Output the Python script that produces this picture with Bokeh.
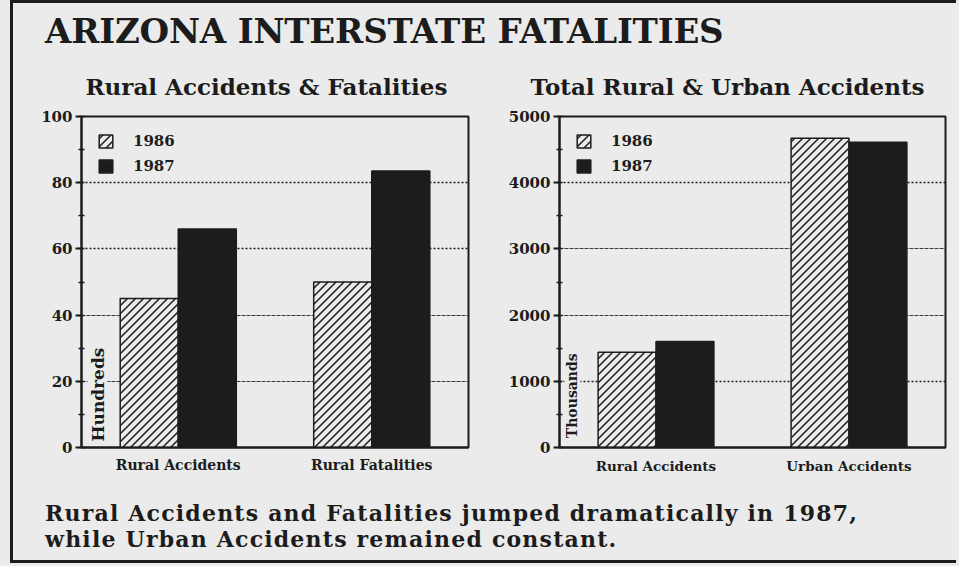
import math
from bokeh.plotting import figure
from bokeh.models import (FactorRange, Range1d, SingleIntervalTicker, FixedTicker, Grid,
                          Legend, LegendItem, Label, Div, ColumnDataSource, CanvasTexture)
from bokeh.layouts import column, row
from bokeh.transform import dodge
from bokeh.core.properties import value
from bokeh.embed import file_html
from bokeh.resources import INLINE

# ---------------- data ----------------
title_text = "ARIZONA INTERSTATE FATALITIES"
caption_lines = ["Rural Accidents and Fatalities jumped dramatically in 1987,",
                 "while Urban Accidents remained constant."]
years = ["1986", "1987"]

left_title = "Rural Accidents & Fatalities"
left_categories = ["Rural Accidents", "Rural Fatalities"]
left_1986 = [45, 50]
left_1987 = [66, 83.5]
left_ymax = 100
left_tick_step = 20
left_dotted_grid = [60, 80]
left_thin_grid = [20, 40]
left_unit = "Hundreds"

right_title = "Total Rural & Urban Accidents"
right_categories = ["Rural Accidents", "Urban Accidents"]
right_1986 = [1440, 4670]
right_1987 = [1600, 4610]
right_ymax = 5000
right_tick_step = 1000
right_dotted_grid = [1000, 4000]
right_thin_grid = [2000, 3000]
right_unit = "Thousands"

BG = "#ebebeb"
INK = "#1c1c1c"
SERIF = "DejaVu Serif"

FIG_H = 445
MB_TOP = 63
FRAME_H = 331

# 45-degree "/" hatch tile (8 px)
diag_texture = CanvasTexture(code="""
const c = ctx.canvas;
c.width = 8; c.height = 8;
ctx.strokeStyle = "#1c1c1c";
ctx.lineWidth = 1.5;
ctx.beginPath();
ctx.moveTo(0, 8); ctx.lineTo(8, 0);
ctx.moveTo(-4, 4); ctx.lineTo(4, -4);
ctx.moveTo(4, 12); ctx.lineTo(12, 4);
ctx.stroke();
""")


def make_panel(cats, v86, v87, ymax, step, dotted, thin, ttl, unit, width,
               mb_left, mb_right, title_offset,
               xlabel_size, xlabel_standoff, unit_x, unit_y, unit_size):
    src = ColumnDataSource(dict(cat=cats, y86=v86, y87=v87))
    p = figure(x_range=FactorRange(factors=cats), y_range=Range1d(0, ymax),
               width=width, height=FIG_H, output_backend="svg", toolbar_location=None,
               min_border_left=mb_left, min_border_right=mb_right,
               min_border_top=MB_TOP, min_border_bottom=FIG_H - MB_TOP - FRAME_H,
               background_fill_color=BG, border_fill_color=BG,
               outline_line_color=INK, outline_line_width=2)
    p.title.text = ttl
    p.title.text_font = SERIF
    p.title.text_font_style = "bold"
    p.title.text_font_size = "23px"
    p.title.text_color = INK
    p.title.align = "left"
    p.title.offset = title_offset
    p.title.standoff = 33

    r86 = p.vbar(x=dodge("cat", -0.15, range=p.x_range), top="y86", width=0.3, source=src,
                 fill_color=BG, hatch_pattern=value("diag"),
                 hatch_extra={"diag": diag_texture}, hatch_color=INK, hatch_scale=8,
                 hatch_weight=1.5, line_color=INK, line_width=1.5)
    r87 = p.vbar(x=dodge("cat", 0.15, range=p.x_range), top="y87", width=0.3, source=src,
                 fill_color=INK, line_color=INK, line_width=1.5)

    p.xgrid.visible = False
    p.ygrid.ticker = FixedTicker(ticks=dotted)
    p.ygrid.grid_line_color = INK
    p.ygrid.grid_line_dash = "2 2"
    p.ygrid.grid_line_width = 1.5
    p.add_layout(Grid(dimension=1, ticker=FixedTicker(ticks=thin),
                      grid_line_color="#3a3a3a", grid_line_dash="4 1",
                      grid_line_width=1))

    p.yaxis.ticker = SingleIntervalTicker(interval=step, num_minor_ticks=2)
    p.yaxis.axis_line_color = INK
    p.yaxis.axis_line_width = 2
    p.yaxis.major_tick_line_color = INK
    p.yaxis.major_tick_line_width = 2
    p.yaxis.major_tick_out = 6
    p.yaxis.major_tick_in = 0
    p.yaxis.minor_tick_line_color = INK
    p.yaxis.minor_tick_line_width = 1.5
    p.yaxis.minor_tick_in = 3
    p.yaxis.minor_tick_out = 3
    p.yaxis.major_label_text_font = SERIF
    p.yaxis.major_label_text_font_style = "bold"
    p.yaxis.major_label_text_font_size = "15px"
    p.yaxis.major_label_text_color = INK
    p.yaxis.major_label_standoff = 3

    p.xaxis.axis_line_color = INK
    p.xaxis.axis_line_width = 2
    p.xaxis.major_tick_line_color = None
    p.xaxis.major_tick_out = 0
    p.xaxis.major_tick_in = 0
    p.xaxis.minor_tick_line_color = None
    p.xaxis.minor_tick_out = 0
    p.xaxis.minor_tick_in = 0
    p.xaxis.major_label_text_font = SERIF
    p.xaxis.major_label_text_font_style = "bold"
    p.xaxis.major_label_text_font_size = xlabel_size
    p.xaxis.major_label_text_color = INK
    p.xaxis.major_label_standoff = xlabel_standoff

    legend = Legend(items=[LegendItem(label=years[0], renderers=[r86]),
                           LegendItem(label=years[1], renderers=[r87])],
                    location="top_left", glyph_width=17, glyph_height=16,
                    label_height=16, spacing=7, label_standoff=19, padding=0,
                    margin=16, background_fill_alpha=0, border_line_color=None,
                    label_text_font=SERIF, label_text_font_style="bold",
                    label_text_font_size="15px", label_text_color=INK)
    p.add_layout(legend)

    p.add_layout(Label(x=unit_x, y=unit_y, text=unit, angle=math.pi / 2,
                       text_align="left", text_baseline="middle",
                       text_font=SERIF, text_font_style="bold",
                       text_font_size=unit_size, text_color=INK,
                       background_fill_color=BG))
    return p


p1 = make_panel(left_categories, left_1986, left_1987, left_ymax, left_tick_step,
                left_dotted_grid, left_thin_grid,
                left_title, left_unit, 475, 68, 20, 4,
                "14px", 9, 0.083, 1.8, "17px")
p2 = make_panel(right_categories, right_1986, right_1987, right_ymax, right_tick_step,
                right_dotted_grid, right_thin_grid,
                right_title, right_unit, 468, 71, 11, -29,
                "13.5px", 10, 0.067, 140, "14px")

title_div = Div(
    text=('<div style="margin:0;padding:8px 0 0 32px;font-family:\'DejaVu Serif\';'
          'font-weight:bold;font-size:34px;line-height:40px;letter-spacing:-0.2px;'
          'color:%s;white-space:nowrap;">%s</div>' % (INK, title_text)),
    width=943, height=50, margin=0)
caption_div = Div(
    text=('<div style="margin:0;padding:3px 0 0 32px;font-family:\'DejaVu Serif\';'
          'font-weight:bold;font-size:22px;line-height:25.6px;letter-spacing:1.2px;'
          'color:%s;white-space:nowrap;">%s</div>' % (INK, "<br>".join(caption_lines))),
    width=943, height=62, margin=0)

content = column(title_div, row(p1, p2, margin=0), caption_div, margin=0,
                 styles={"background-color": BG})


def bar(w, h, color):
    return Div(text="", width=w, height=h, margin=0, styles={"background-color": color})


frame_box = column(bar(946, 3, INK),
                   row(bar(3, 557, INK), content, margin=0),
                   bar(946, 3, INK), margin=0)
layout = row(bar(10, 566, BG), frame_box, bar(3, 566, BG), margin=0,
             styles={"background-color": BG})

open("out.html", "w").write(file_html(layout, INLINE))
